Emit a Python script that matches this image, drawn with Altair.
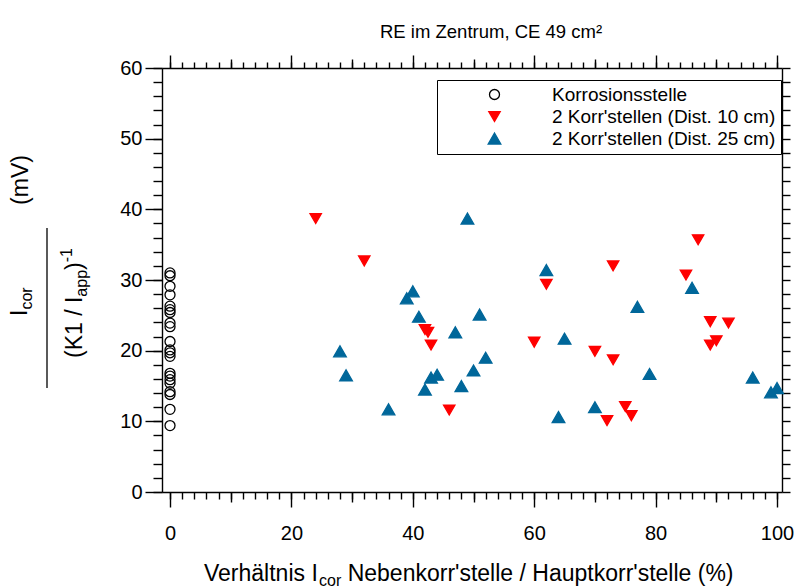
import altair as alt
import pandas as pd

FONT = "Liberation Sans"
RED = "#FF0000"
BLUE = "#00679A"

series_names = [
    "Korrosionsstelle",
    "2 Korr'stellen (Dist. 10 cm)",
    "2 Korr'stellen (Dist. 25 cm)",
]

# single corrosion site (ratio 0 %)
single_y = [31.0, 30.6, 29.1, 27.9, 26.3, 25.8, 25.4, 23.9, 23.4, 21.3, 20.1,
            19.7, 19.2, 16.8, 16.4, 15.9, 15.4, 14.2, 13.8, 11.7, 9.4]
single_x = [0] * len(single_y)

# two corrosion sites, 10 cm apart
d10_x = [24, 32, 42, 42.5, 43, 46, 60, 62, 70, 72, 73, 73, 75, 76, 85, 87, 89, 89, 90, 92]
d10_y = [38.7, 32.7, 23.0, 22.6, 20.8, 11.6, 21.2, 29.4, 19.9, 10.1, 32.0, 18.7,
         12.1, 10.8, 30.7, 35.7, 24.1, 20.8, 21.4, 23.9]

# two corrosion sites, 25 cm apart
d25_x = [28, 29, 36, 39, 40, 41, 42, 43, 44, 47, 48, 49, 50, 51, 52, 62, 64, 65,
         70, 77, 79, 86, 96, 99, 100]
d25_y = [19.9, 16.5, 11.7, 27.4, 28.4, 24.8, 14.5, 16.2, 16.6, 22.6, 15.0, 38.7,
         17.2, 25.1, 19.0, 31.4, 10.6, 21.7, 12.0, 26.2, 16.7, 28.9, 16.2, 14.1, 14.7]

df = pd.concat([
    pd.DataFrame({"ratio": single_x, "value": single_y, "series": series_names[0]}),
    pd.DataFrame({"ratio": d10_x, "value": d10_y, "series": series_names[1]}),
    pd.DataFrame({"ratio": d25_x, "value": d25_y, "series": series_names[2]}),
], ignore_index=True)

x_scale = alt.Scale(domain=[-1.32, 100.82], nice=False, zero=False)
y_scale = alt.Scale(domain=[0, 60], nice=False, zero=False)

x_major = list(range(0, 101, 20))
x_medium = list(range(10, 100, 20))
x_minor = list(range(0, 101, 2))
y_major = list(range(0, 61, 10))
y_minor = list(range(0, 61, 2))


def axis(orient, values, size, labels=False, domain=False, **kw):
    return alt.Axis(
        orient=orient, values=values, tickSize=size, labels=labels, domain=domain,
        grid=False, title=None, tickColor="black", tickWidth=1.4,
        domainColor="black", domainWidth=1.4, labelFont=FONT, labelFontSize=20,
        labelColor="black", labelFlush=False, **kw,
    )


leg = alt.Legend(
    title=None, orient="none", legendX=275, legendY=12, strokeColor="black",
    padding=5, symbolOffset=43, labelOffset=48, labelFont=FONT, labelFontSize=19,
    labelColor="black", rowPadding=2, labelLimit=400, symbolStrokeWidth=1.3,
)

points = alt.Chart(df).mark_point(opacity=1, strokeWidth=1.3).encode(
    x=alt.X("ratio:Q", scale=x_scale,
            axis=axis("bottom", x_major, 15, labels=True, domain=True, labelPadding=16)),
    y=alt.Y("value:Q", scale=y_scale,
            axis=axis("left", y_major, 17, labels=True, domain=True, labelPadding=3)),
    shape=alt.Shape("series:N", scale=alt.Scale(domain=series_names,
                    range=["circle", "triangle-down", "triangle-up"]), legend=leg),
    fill=alt.Fill("series:N", scale=alt.Scale(domain=series_names,
                  range=["transparent", RED, BLUE]), legend=leg),
    stroke=alt.Stroke("series:N", scale=alt.Scale(domain=series_names,
                      range=["black", RED, BLUE]), legend=leg),
    size=alt.Size("series:N", scale=alt.Scale(domain=series_names,
                  range=[100, 160, 160]), legend=leg),
)


def tick_layer(x_axis, y_axis):
    return alt.Chart(df).mark_point(opacity=0).encode(
        x=alt.X("ratio:Q", scale=x_scale, axis=x_axis),
        y=alt.Y("value:Q", scale=y_scale, axis=y_axis),
    )


ticks = [
    tick_layer(axis("bottom", x_minor, 7), axis("left", y_minor, 9)),
    tick_layer(axis("bottom", x_medium, 10), axis("right", y_minor, 8, domain=True)),
    tick_layer(axis("top", x_minor, 6, domain=True), None),
    tick_layer(axis("top", x_medium, 9), None),
    tick_layer(axis("top", x_major, 13), None),
]

# Arial / Liberation Sans advance widths (1/1000 em) for composing rich titles
ADV = {" ": 278, "(": 333, ")": 333, "K": 667, "1": 556, "/": 278, "I": 278,
       "a": 556, "p": 556, "c": 500, "o": 556, "r": 333, "-": 333, "m": 833,
       "V": 667, "e": 556, "h": 556, "ä": 556, "l": 222, "t": 278, "n": 556,
       "i": 222, "s": 500, "N": 722, "b": 556, "k": 500, "'": 191, "H": 722,
       "u": 556, "%": 889}


def width(s, size):
    return sum(ADV.get(ch, 556) for ch in s) * size / 1000.0


def text(t, x, y, size, angle=0, align="left", baseline="alphabetic"):
    return alt.Chart(pd.DataFrame({"t": [t]})).mark_text(
        font=FONT, fontSize=size, angle=angle, align=align, baseline=baseline,
        color="black",
    ).encode(text="t:N", x=alt.value(x), y=alt.value(y))


MAIN, SUB = 23, 16
labels = []

# chart title
labels.append(text("RE im Zentrum, CE 49 cm²", 218, -30, 18.5))

# x-axis title: Verhältnis I_cor Nebenkorr'stelle / Hauptkorr'stelle (%)
xt0 = 42
xt_base = 513
p1 = "Verhältnis I"
p3 = "Nebenkorr'stelle / Hauptkorr'stelle (%)"
labels.append(text(p1, xt0, xt_base, MAIN))
labels.append(text("cor", xt0 + width(p1, MAIN), xt_base + 5, SUB))
labels.append(text(p3, xt0 + width(p1, MAIN) + width("cor", SUB) + width(" ", MAIN),
                   xt_base, MAIN))

# y-axis title: I_cor / (K1 / I_app)^-1  (mV), read bottom to top
num0 = 248
labels.append(text("I", -135, num0, MAIN, angle=270))
labels.append(text("cor", -130, num0 - width("I", MAIN), SUB, angle=270))
labels.append(text("(mV)", -134, 112, MAIN, angle=270, align="center"))

den0 = 290
d1 = "(K1 / I"
labels.append(text(d1, -80, den0, MAIN, angle=270))
y_app = den0 - width(d1, MAIN)
labels.append(text("app", -75, y_app, SUB, angle=270))
y_close = y_app - width("app", SUB)
labels.append(text(")", -80, y_close, MAIN, angle=270))
labels.append(text("-1", -90, y_close - width(")", MAIN), SUB, angle=270))

frac_line = alt.Chart(pd.DataFrame({"k": [0]})).mark_rule(
    color="black", strokeWidth=1.3
).encode(x=alt.value(-115), y=alt.value(160), y2=alt.value(320))

chart = alt.layer(*ticks, points, frac_line, *labels).resolve_axis(
    x="independent", y="independent"
).properties(
    width=620, height=424,
    padding={"left": 162, "top": 68, "right": 13, "bottom": 96},
    autosize=alt.AutoSizeParams(type="none"),
    background="white",
).configure_view(stroke=None)

chart.save("out.html", embed_options={"renderer": "svg", "actions": False})
